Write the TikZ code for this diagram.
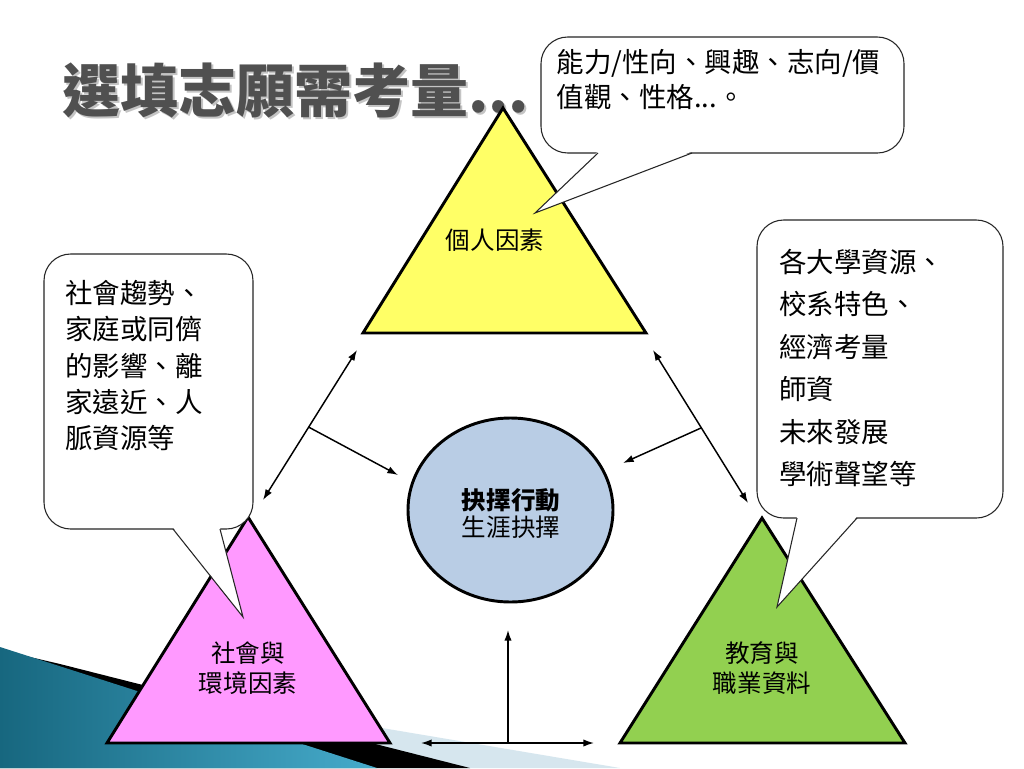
\documentclass[tikz,border=0pt]{standalone}
\usepackage{fontspec}
\setmainfont{Noto Sans CJK TC}
\usetikzlibrary{arrows.meta,shapes.geometric}
\definecolor{triY}{HTML}{FFFF66}
\definecolor{triP}{HTML}{FF99FF}
\definecolor{triG}{HTML}{92D050}
\definecolor{ellc}{HTML}{B9CDE5}
\definecolor{titlec}{HTML}{505050}
\definecolor{shadowc}{HTML}{C4C4C4}
\definecolor{tealA}{HTML}{17677F}
\definecolor{tealB}{HTML}{46ABCB}
\definecolor{lblue}{HTML}{D6E6EE}
\begin{document}
\begin{tikzpicture}[x=0.75pt,y=-0.75pt,
  tri/.style={draw=black,line width=2.2pt,line join=miter},
  callbox/.style={draw=black!85,line width=0.8pt,fill=white,rounded corners=20pt},
  ptrline/.style={draw=black!85,line width=0.8pt,line join=miter},
  ctext/.style={anchor=base west,inner sep=0pt,font=\fontsize{20.6}{24}\selectfont},
  ttext/.style={anchor=base,inner sep=0pt,font=\fontsize{18.4}{22}\selectfont},
  ttl/.style={anchor=base west,inner sep=0pt,font=\fontsize{43.5}{50}\selectfont\bfseries},
  link/.style={line width=1.1pt,draw=black},
  tip/.style={-{Latex[length=8pt,width=5.5pt]}},
  twotip/.style={{Latex[length=8pt,width=5.5pt]}-{Latex[length=8pt,width=5.5pt]}}
]
\useasboundingbox (0,0) rectangle (1024,768);
\fill[white] (0,0) rectangle (1024,768);

% background swoosh
\fill[lblue] (150,689) -- (620,768) -- (150,768) -- cycle;
\fill[black] (0,650) -- (60,664) -- (470,768) -- (0,768) -- cycle;
\shade[left color=tealA,right color=tealB] (0,647) -- (377,768) -- (0,768) -- cycle;

% title
\node[ttl,text=shadowc] (titleshadow) at (64,114) {選填志願需考量...};
\node[ttl,text=titlec] (title) at (62,112) {選填志願需考量...};

% triangles
\draw[tri,fill=triY] (363,333) -- (503,108) -- (646,333) -- cycle;
\draw[tri,fill=triP] (107,743) -- (248,517) -- (390,743) -- cycle;
\draw[tri,fill=triG] (620,743) -- (762,518) -- (905,743) -- cycle;

% ellipse
\node[ellipse,draw=black,line width=2.2pt,fill=ellc,minimum width=153.75pt,minimum height=138pt,inner sep=0pt] (ell) at (510.5,510) {};

% triangle texts
\node[ttext] (tY) at (495,249) {個人因素};
\node[ttext] (tP1) at (248,662) {社會與};
\node[ttext] (tP2) at (248,692) {環境因素};
\node[ttext] (tG1) at (762,662) {教育與};
\node[ttext] (tG2) at (762,692) {職業資料};
\node[ttext,font=\fontsize{18.4}{22}\selectfont\bfseries] (e1) at (511,509) {抉擇行動};
\node[ttext] (e2) at (511,536) {生涯抉擇};

% callouts
\draw[callbox] (541,37) rectangle (904,153);
\fill[white] (598,151.5) -- (692,151.5) -- (535,213) -- cycle;
\draw[ptrline] (598,153) -- (535,213) -- (692,153);

\draw[callbox] (44,254) rectangle (253,529);
\fill[white] (173,527.5) -- (220,527.5) -- (243,617) -- cycle;
\draw[ptrline] (173,529) -- (243,617) -- (220,529);

\draw[callbox] (757,220) rectangle (1003,518);
\fill[white] (797,516.5) -- (857,516.5) -- (777,607) -- cycle;
\draw[ptrline] (797,518) -- (777,607) -- (857,518);

% callout texts
\node[ctext] (c1a) at (556.5,72) {能力/性向、興趣、志向/價};
\node[ctext] (c1b) at (556.5,107) {值觀、性格...。};

\node[ctext] (c2a) at (65,303.5) {社會趨勢、};
\node[ctext] (c2b) at (65,339.75) {家庭或同儕};
\node[ctext] (c2c) at (65,376) {的影響、離};
\node[ctext] (c2d) at (65,412.25) {家遠近、人};
\node[ctext] (c2e) at (65,448.5) {脈資源等};

\node[ctext] (c3a) at (779,272.5) {各大學資源、};
\node[ctext] (c3b) at (779,314.9) {校系特色、};
\node[ctext] (c3c) at (779,357.3) {經濟考量};
\node[ctext] (c3d) at (779,399.7) {師資};
\node[ctext] (c3e) at (779,442.1) {未來發展};
\node[ctext] (c3f) at (779,484.5) {學術聲望等};

% connectors
\coordinate (aL1) at (357,350);
\coordinate (aL2) at (263,500);
\coordinate (aLm) at (308.5,427);
\coordinate (aLe) at (398,475);
\coordinate (aR1) at (653,350);
\coordinate (aR2) at (748,503);
\coordinate (aRm) at (701,428);
\coordinate (aRe) at (623,463);
\coordinate (bL) at (421,743);
\coordinate (bR) at (594,743);
\coordinate (bM) at (508,743);
\coordinate (bT) at (508,630);

\draw[link,twotip] (aL1) -- (aL2);
\draw[link,tip] (aLm) -- (aLe);
\draw[link,twotip] (aR1) -- (aR2);
\draw[link,tip] (aRm) -- (aRe);
\draw[link,twotip] (bL) -- (bR);
\draw[link,tip] (bM) -- (bT);
\end{tikzpicture}
\end{document}
